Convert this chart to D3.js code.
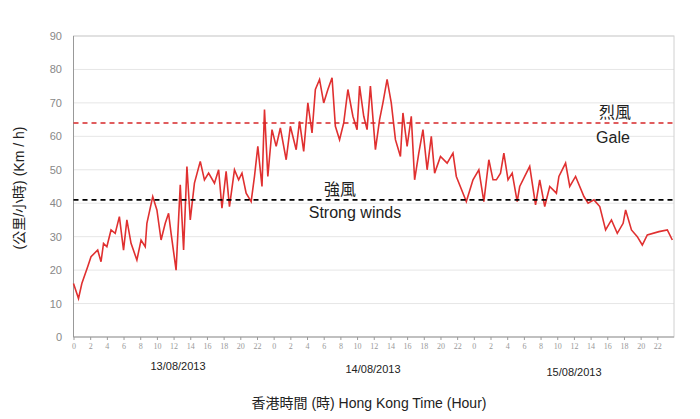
<!DOCTYPE html>
<html><head><meta charset="utf-8">
<script src="https://cdn.jsdelivr.net/npm/d3@7"></script>
<style>body{margin:0;background:#fff}</style></head>
<body><svg id="c" width="700" height="419"></svg>
<script>
const hours=[0,0.6,1,1.7,2.1,2.9,3.3,3.6,4,4.5,5,5.5,6,6.4,6.9,7.6,8.1,8.6,8.8,9.5,10,10.5,11,11.4,11.7,12.3,12.8,13.2,13.6,14,14.5,15.2,15.7,16.2,16.9,17.4,17.8,18.3,18.7,19.3,19.8,20.2,20.7,21.3,21.7,22.1,22.6,22.9,23.3,23.8,24.3,24.8,25.5,26,26.7,27.1,27.6,28.1,28.6,29,29.5,30,30.5,31,31.4,31.9,32.4,32.9,33.5,34,34.3,34.8,35.2,35.6,36.2,36.7,37.1,37.6,38.1,38.6,39.2,39.5,40,40.5,40.9,41.4,41.9,42.4,42.9,43.3,44,44.8,45.5,45.9,46.7,47.1,47.9,48.6,49.2,49.8,50.3,50.7,51.2,51.6,52.1,52.6,53.2,53.5,54.1,54.7,55.4,55.9,56.5,57.1,57.9,58.2,59,59.5,60.2,61.2,61.7,62.4,63.1,63.8,64.5,65.2,65.9,66.2,66.9,67.6,68.2,68.8,70.2,71.2,71.8];
const speed=[16,11.5,16,21,24,26,22.5,28,27,32,31,36,26,35,28,23,29,27,34,42,38,29,34,37,31,20,45.5,26,51,35,46,52.5,47,49,46,50,38.5,49.5,39,50,47,49,43,40.5,48,57,45,68,48,62,57,62.5,53,63,56,64.5,55.5,70,61,74,77,70,74,77.5,63,59,64,74,66,62,75,66,62,75,56,65,70,77,70,59,54,67,57,66,47,55,62,50,60,49,54,52,55,48,43,40.5,47,50,40.5,53,47,47,49,55,47,49,40.5,45,48,51,39.5,47,39,45,43,48,52,45,48,42,40,41,39,32,35,31,34,38,32,30,27.5,30.5,31.5,32,29];
const yTicks=[0,10,20,30,40,50,60,70,80,90];
const xTickHours=d3.range(0,72,2);
const dates=["13/08/2013","14/08/2013","15/08/2013"];
const thresholds=[{v:64,zh:"烈風",en:"Gale",color:"#d62728"},{v:41,zh:"強風",en:"Strong winds",color:"#000"}];

const svg=d3.select("#c");
const x=d3.scaleLinear().domain([0,72]).range([73.5,674]);
const y=d3.scaleLinear().domain([0,90]).range([337,36]);
const f="'Liberation Sans','Noto Sans CJK TC',sans-serif";

svg.append("g").selectAll("line").data(yTicks.slice(1)).join("line")
 .attr("x1",x(0)).attr("x2",x(72)).attr("y1",d=>y(d)).attr("y2",d=>y(d))
 .attr("stroke","#e6e6e6");
svg.append("rect").attr("x",x(0)).attr("y",y(90)).attr("width",x(72)-x(0)).attr("height",y(0)-y(90))
 .attr("fill","none").attr("stroke","#d0d0d0");
svg.append("line").attr("x1",x(0)).attr("x2",x(0)).attr("y1",y(90)).attr("y2",y(0)).attr("stroke","#999");
svg.append("line").attr("x1",x(0)).attr("x2",x(72)).attr("y1",y(0)).attr("y2",y(0)).attr("stroke","#999");

svg.append("g").selectAll("text").data(yTicks).join("text")
 .attr("x",62).attr("y",d=>y(d)+4).attr("text-anchor","end")
 .attr("font-family",f).attr("font-size",11).attr("fill","#888").text(d=>d);

const xa=svg.append("g").attr("transform",`translate(0,${y(0)})`)
 .call(d3.axisBottom(x).tickValues(xTickHours).tickSize(3).tickFormat(d=>d%24));
xa.select(".domain").remove();
xa.selectAll("line").attr("stroke","#999");
xa.selectAll("text").attr("font-family","'Liberation Serif',serif").attr("font-size",8).attr("fill","#999");

svg.append("path").datum(hours.map((h,i)=>[h,speed[i]]))
 .attr("d",d3.line().x(d=>x(d[0])).y(d=>y(d[1])))
 .attr("fill","none").attr("stroke","#e03030").attr("stroke-width",1.6);

thresholds.forEach(t=>{
 svg.append("line").attr("x1",x(0)).attr("x2",x(72)).attr("y1",y(t.v)).attr("y2",y(t.v))
  .attr("stroke",t.color).attr("stroke-width",1.6).attr("stroke-dasharray","5,4");
});
const lab=[[615,118,"烈風"],[613,143,"Gale"],[340,195,"強風"],[355,218,"Strong winds"]];
svg.append("g").selectAll("text").data(lab).join("text")
 .attr("x",d=>d[0]).attr("y",d=>d[1]).attr("text-anchor","middle")
 .attr("font-family",f).attr("font-size",16).attr("fill","#222").text(d=>d[2]);

const dpos=[[178,370],[373,373],[574,376]];
svg.append("g").selectAll("text").data(dates).join("text")
 .attr("x",(d,i)=>dpos[i][0]).attr("y",(d,i)=>dpos[i][1]).attr("text-anchor","middle")
 .attr("font-family",f).attr("font-size",11).attr("fill","#222").text(d=>d);

svg.append("text").attr("x",369).attr("y",408).attr("text-anchor","middle")
 .attr("font-family",f).attr("font-size",14).attr("fill","#222").text("香港時間 (時) Hong Kong Time (Hour)");
svg.append("text").attr("transform","translate(24,188) rotate(-90)").attr("text-anchor","middle")
 .attr("font-family",f).attr("font-size",14).attr("fill","#222").text("(公里/小時) (Km / h)");
</script></body></html>
